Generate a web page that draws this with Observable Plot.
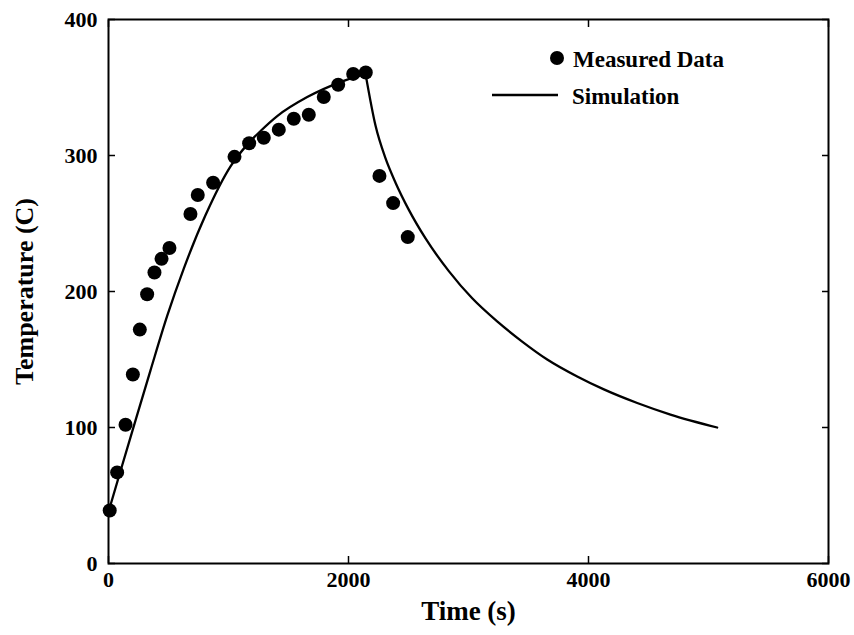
<!DOCTYPE html>
<html>
<head>
<meta charset="utf-8">
<script src="https://cdn.jsdelivr.net/npm/d3@7"></script>
<script src="https://cdn.jsdelivr.net/npm/@observablehq/plot@0.6"></script>
<style>
  body { margin: 0; background: #fff; }
  #wrap { position: relative; width: 854px; height: 635px; font-family: "Liberation Serif", "DejaVu Serif", serif; font-weight: bold; color: #000; }
</style>
</head>
<body>
<div id="wrap"></div>
<script>
// Measured data: time (s) and temperature (C)
const measTime = [10, 72, 142, 203, 261, 322, 383, 442, 508, 683, 744, 872, 1050, 1172, 1294, 1419, 1544, 1669, 1794, 1914, 2039, 2144, 2258, 2372, 2494];
const measTemp = [39, 67, 102, 139, 172, 198, 214, 224, 232, 257, 271, 280, 299, 309, 313, 319, 327, 330, 343, 352, 360, 361, 285, 265, 240];

// Simulation curve, heating part: time (s) and temperature (C)
const simHeatTime = [0, 100, 211, 350, 489, 628, 808, 1017, 1156, 1267, 1406, 1656, 1933, 2142];
const simHeatTemp = [38, 68, 101, 142, 182, 217, 256, 292, 308, 318, 329, 343, 354, 360];
// Simulation curve, cooling part: time (s) and temperature (C)
const simCoolTime = [2142, 2225, 2308, 2392, 2503, 2642, 2836, 3031, 3239, 3450, 3656, 3906, 4128, 4406, 4683, 5072];
const simCoolTemp = [360, 322, 298, 280, 260, 239, 215, 195, 178, 163, 150, 137.5, 128, 118, 109.5, 100];

const xTicks = [0, 2000, 4000, 6000];
const yTicks = [0, 100, 200, 300, 400];
const xLabel = "Time (s)";
const yLabel = "Temperature (C)";
const legendLabels = ["Measured Data", "Simulation"];

const measured = measTime.map((t, i) => ({t, T: measTemp[i]}));
const simHeat = simHeatTime.map((t, i) => ({t, T: simHeatTemp[i]}));
const simCool = simCoolTime.map((t, i) => ({t, T: simCoolTemp[i]}));

const font = {fontFamily: "Liberation Serif", fontWeight: "bold", fill: "#000"};
const fmt = d3.format("d");

const chart = Plot.plot({
  width: 854,
  height: 635,
  marginLeft: 108,
  marginRight: 26,
  marginTop: 19,
  marginBottom: 72,
  style: {fontFamily: "Liberation Serif", fontWeight: "bold", color: "#000", background: "#fff", overflow: "visible"},
  x: {domain: [0, 6000]},
  y: {domain: [0, 400]},
  marks: [
    Plot.frame({stroke: "#000", strokeWidth: 2}),
    // tick labels
    Plot.axisX(xTicks, {anchor: "bottom", tickSize: 0, tickPadding: 8, fontSize: 22, tickFormat: fmt, label: null, ...font}),
    Plot.axisY(yTicks, {anchor: "left", tickSize: 0, tickPadding: 11, fontSize: 22, tickFormat: fmt, label: null, ...font}),
    // inward tick marks
    Plot.axisX(xTicks, {anchor: "bottom", tickSize: -7, text: null, label: null, strokeWidth: 1.5, stroke: "#000"}),
    Plot.axisX(xTicks, {anchor: "top", tickSize: -7, text: null, label: null, strokeWidth: 1.5, stroke: "#000"}),
    Plot.axisY(yTicks, {anchor: "left", tickSize: -7, text: null, label: null, strokeWidth: 1.5, stroke: "#000"}),
    Plot.axisY(yTicks, {anchor: "right", tickSize: -7, text: null, label: null, strokeWidth: 1.5, stroke: "#000"}),
    // axis titles
    Plot.axisX([], {anchor: "bottom", label: xLabel, labelAnchor: "center", labelArrow: "none", labelOffset: 56, fontSize: 27, ...font}),
    Plot.axisY([], {anchor: "left", label: yLabel, labelAnchor: "center", labelArrow: "none", labelOffset: 94, fontSize: 26, ...font}),
    Plot.line(simHeat, {x: "t", y: "T", stroke: "#000", strokeWidth: 2.3, curve: "monotone-x"}),
    Plot.line(simCool, {x: "t", y: "T", stroke: "#000", strokeWidth: 2.3, curve: "monotone-x"}),
    Plot.dot(measured, {x: "t", y: "T", r: 7, fill: "#000", stroke: "none"})
  ]
});

const wrap = document.getElementById("wrap");
wrap.appendChild(chart);

// legend overlay
const lgSvg = d3.create("svg").attr("width", 854).attr("height", 635)
  .style("position", "absolute").style("left", 0).style("top", 0).style("pointer-events", "none");
lgSvg.append("circle").attr("cx", 557).attr("cy", 58).attr("r", 7).attr("fill", "#000");
lgSvg.append("line").attr("x1", 492).attr("x2", 558).attr("y1", 95).attr("y2", 95).attr("stroke", "#000").attr("stroke-width", 2.3);
lgSvg.append("text").attr("x", 573).attr("y", 67).text(legendLabels[0])
  .attr("font-family", "Liberation Serif").attr("font-weight", "bold").attr("font-size", 23).attr("fill", "#000");
lgSvg.append("text").attr("x", 572).attr("y", 104).text(legendLabels[1])
  .attr("font-family", "Liberation Serif").attr("font-weight", "bold").attr("font-size", 23).attr("fill", "#000");
wrap.appendChild(lgSvg.node());
</script>
</body>
</html>
